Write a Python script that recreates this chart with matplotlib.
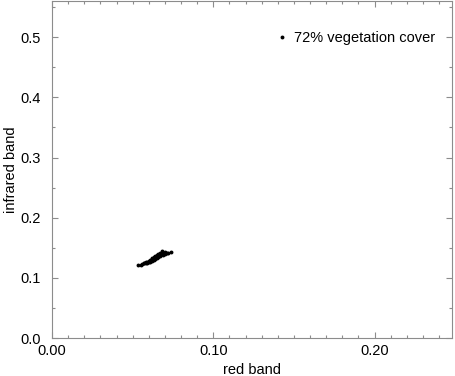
import matplotlib
matplotlib.use("Agg")
import matplotlib.pyplot as plt
from matplotlib.ticker import MultipleLocator

# red / infrared reflectance of pixels with 72% vegetation cover
red = [0.055, 0.056, 0.057, 0.058, 0.058, 0.059, 0.059, 0.060, 0.060, 0.061,
       0.061, 0.062, 0.062, 0.062, 0.063, 0.063, 0.063, 0.064, 0.064, 0.064,
       0.065, 0.065, 0.065, 0.066, 0.066, 0.066, 0.067, 0.067, 0.067, 0.068,
       0.068, 0.069, 0.069, 0.070, 0.070, 0.071, 0.072, 0.074, 0.0535, 0.057]
infrared = [0.122, 0.123, 0.124, 0.126, 0.124, 0.127, 0.125, 0.128, 0.126, 0.129,
            0.127, 0.131, 0.128, 0.133, 0.130, 0.134, 0.132, 0.133, 0.136, 0.131,
            0.135, 0.138, 0.133, 0.137, 0.140, 0.135, 0.139, 0.142, 0.136, 0.140,
            0.144, 0.141, 0.138, 0.143, 0.139, 0.142, 0.141, 0.143, 0.121, 0.125]
label = "72% vegetation cover"

plt.rcParams["font.family"] = ["Liberation Sans", "DejaVu Sans"]
plt.rcParams["font.size"] = 10.5

fig = plt.figure(figsize=(4.55, 3.76), dpi=100)
ax = fig.add_axes([0.1143, 0.101, 0.879, 0.896])

ax.plot(red, infrared, "o", color="black", markersize=2.8, markeredgewidth=0, label=label)

ax.set_xlim(0.0, 0.248)
ax.set_ylim(0.0, 0.56)
ax.xaxis.set_major_locator(MultipleLocator(0.1))
ax.xaxis.set_minor_locator(MultipleLocator(0.01))
ax.yaxis.set_major_locator(MultipleLocator(0.1))
ax.yaxis.set_minor_locator(MultipleLocator(0.05))
ax.xaxis.set_major_formatter(plt.FormatStrFormatter("%.2f"))
ax.yaxis.set_major_formatter(plt.FormatStrFormatter("%.1f"))

for s in ax.spines.values():
    s.set_color("#8c8c8c")
    s.set_linewidth(0.8)
ax.tick_params(which="both", direction="in", top=True, right=True, color="#8c8c8c", width=0.8)
ax.tick_params(which="major", length=4)
ax.tick_params(which="minor", length=2.5)
ax.tick_params(axis="x", which="major", pad=4)
ax.tick_params(axis="y", which="major", pad=8)

ax.set_xlabel("red band", labelpad=4)
ax.set_ylabel("infrared band", labelpad=2)

ax.legend(loc="center left", frameon=False, handlelength=0.6, handletextpad=0.5,
          markerscale=1.0, borderaxespad=0, borderpad=0,
          bbox_to_anchor=(226 / 400, 0.89))

plt.savefig("out.png", dpi=100)
